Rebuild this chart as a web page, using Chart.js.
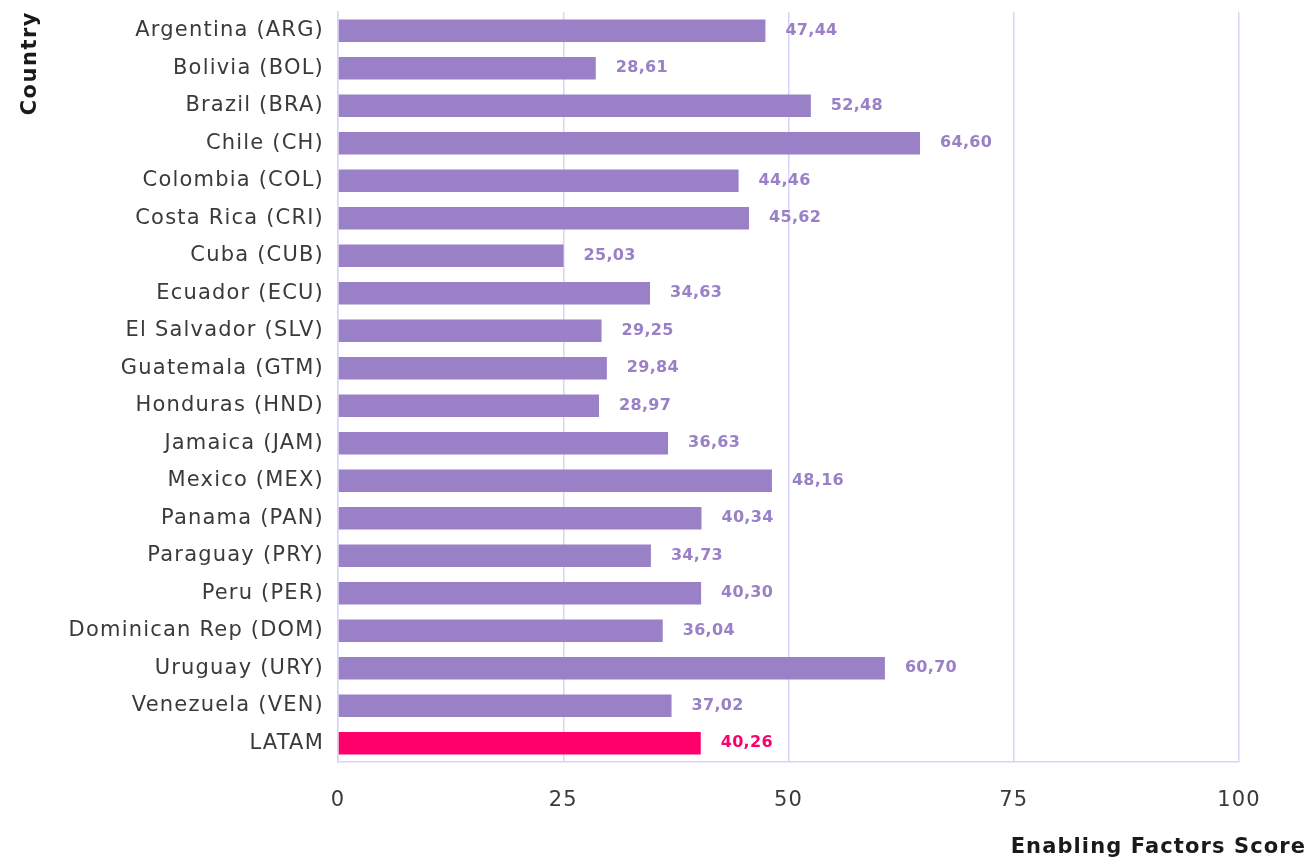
<!DOCTYPE html>
<html><head><meta charset="utf-8">
<script src="https://cdn.jsdelivr.net/npm/chart.js@4"></script>
<style>html,body{margin:0;padding:0;background:#fff}#wrap{width:1312px;height:864px}</style>
</head><body><div id="wrap"><canvas id="c" width="1312" height="864"></canvas></div>
<script>
const categories = ["Argentina (ARG)","Bolivia (BOL)","Brazil (BRA)","Chile (CH)","Colombia (COL)","Costa Rica (CRI)","Cuba (CUB)","Ecuador (ECU)","El Salvador (SLV)","Guatemala (GTM)","Honduras (HND)","Jamaica (JAM)","Mexico (MEX)","Panama (PAN)","Paraguay (PRY)","Peru (PER)","Dominican Rep (DOM)","Uruguay (URY)","Venezuela (VEN)","LATAM"];
const scores = [47.44,28.61,52.48,64.60,44.46,45.62,25.03,34.63,29.25,29.84,28.97,36.63,48.16,40.34,34.73,40.30,36.04,60.70,37.02,40.26];
const xTicks = [0,25,50,75,100];
const xTitle = "Enabling Factors Score";
const yTitle = "Country";
const highlight = "LATAM";
const PURPLE = "#9a80c6", PINK = "#ff006b";
const colors = categories.map(c => c === highlight ? PINK : PURPLE);
const TICK_FONT = { family: "'DejaVu Sans'", size: 21, weight: 'normal' };

const spacingPlugin = {
  id: 'spacing',
  beforeDraw(chart) { chart.ctx.letterSpacing = '1.2px'; },
  afterDraw(chart) { chart.ctx.letterSpacing = '0px'; }
};

const labelPlugin = {
  id: 'valueLabels',
  afterDatasetsDraw(chart) {
    const ctx = chart.ctx;
    const meta = chart.getDatasetMeta(0);
    ctx.save();
    ctx.letterSpacing = '0.3px';
    ctx.font = "bold 16px 'DejaVu Sans'";
    ctx.textAlign = "left";
    ctx.textBaseline = "middle";
    meta.data.forEach((bar, i) => {
      ctx.fillStyle = colors[i];
      ctx.fillText(scores[i].toFixed(2).replace('.', ','), bar.x + 20, bar.y);
    });
    ctx.restore();
  }
};

const titlePlugin = {
  id: 'axisTitles',
  afterDraw(chart) {
    const ctx = chart.ctx;
    ctx.save();
    ctx.fillStyle = "#1a1a1a";
    ctx.font = "bold 21px 'DejaVu Sans'";
    ctx.textAlign = "right";
    ctx.textBaseline = "middle";
    ctx.letterSpacing = '1.1px';
    ctx.fillText(xTitle, chart.width - 6, chart.height - 16);
    ctx.letterSpacing = '1.5px';
    ctx.translate(31, chart.chartArea.top - 1);
    ctx.rotate(-Math.PI / 2);
    ctx.fillText(yTitle, 0, 0);
    ctx.restore();
  }
};

new Chart(document.getElementById('c'), {
  type: 'bar',
  data: { labels: categories, datasets: [{ data: scores, backgroundColor: colors, barPercentage: 0.6, categoryPercentage: 1.0 }] },
  options: {
    indexAxis: 'y',
    responsive: false,
    animation: false,
    layout: { autoPadding: false, padding: { top: 12, right: 73, left: 0, bottom: 0 } },
    plugins: { legend: { display: false }, tooltip: { enabled: false } },
    scales: {
      x: {
        min: 0, max: 100,
        afterBuildTicks(axis) { axis.ticks = xTicks.map(v => ({ value: v })); },
        afterFit(axis) { axis.height = 102; axis.paddingLeft = 0; axis.paddingRight = 0; },
        grid: { color: "#d9d3fb", lineWidth: 1.5, drawTicks: false },
        border: { color: "#d9d3fb", width: 1.5 },
        ticks: { color: "#3a3a3a", font: TICK_FONT, padding: 26 }
      },
      y: {
        afterFit(axis) { axis.width = 338; axis.paddingTop = 0; axis.paddingBottom = 0; },
        grid: { display: false, drawTicks: false },
        border: { color: "#d9d3fb", width: 1.5 },
        ticks: { color: "#3a3a3a", font: TICK_FONT, padding: 14 }
      }
    }
  },
  plugins: [spacingPlugin, labelPlugin, titlePlugin]
});
</script></body></html>
